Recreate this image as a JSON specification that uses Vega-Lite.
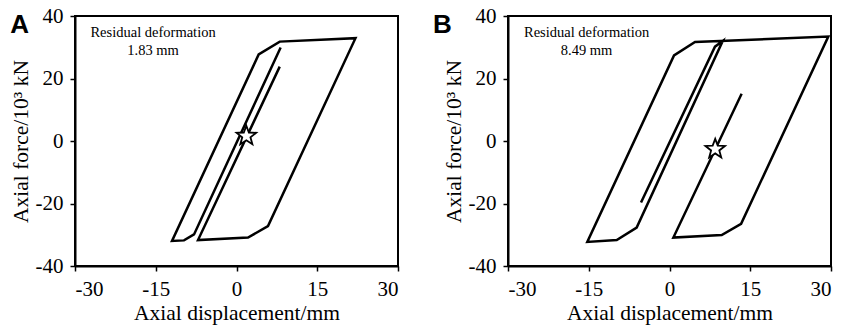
{
  "$schema": "https://vega.github.io/schema/vega-lite/v6.json",
  "background": "white",
  "padding": {"left": 9, "top": 4, "right": 5, "bottom": 5},
  "datasets": {
    "curves": [
      {"panel": "A", "seq": 1, "x": 8.2, "y": 29.9},
      {"panel": "A", "seq": 2, "x": -7.89, "y": -29.9},
      {"panel": "A", "seq": 3, "x": -9.75, "y": -31.8},
      {"panel": "A", "seq": 4, "x": -11.98, "y": -32.0},
      {"panel": "A", "seq": 5, "x": 4.12, "y": 27.7},
      {"panel": "A", "seq": 6, "x": 8.03, "y": 31.8},
      {"panel": "A", "seq": 7, "x": 22.1, "y": 32.9},
      {"panel": "A", "seq": 8, "x": 5.85, "y": -27.2},
      {"panel": "A", "seq": 9, "x": 2.14, "y": -30.9},
      {"panel": "A", "seq": 10, "x": -7.15, "y": -31.7},
      {"panel": "A", "seq": 11, "x": 8.03, "y": 23.8},
      {"panel": "B", "seq": 1, "x": -5.29, "y": -19.7},
      {"panel": "B", "seq": 2, "x": 8.45, "y": 30.2},
      {"panel": "B", "seq": 3, "x": 9.88, "y": 32.0},
      {"panel": "B", "seq": 4, "x": -6.1, "y": -27.7},
      {"panel": "B", "seq": 5, "x": -9.8, "y": -31.7},
      {"panel": "B", "seq": 6, "x": -15.27, "y": -32.3},
      {"panel": "B", "seq": 7, "x": 0.84, "y": 27.4},
      {"panel": "B", "seq": 8, "x": 4.74, "y": 31.7},
      {"panel": "B", "seq": 9, "x": 29.5, "y": 33.4},
      {"panel": "B", "seq": 10, "x": 13.3, "y": -26.5},
      {"panel": "B", "seq": 11, "x": 9.7, "y": -30.1},
      {"panel": "B", "seq": 12, "x": 0.72, "y": -30.9},
      {"panel": "B", "seq": 13, "x": 13.4, "y": 15.1}
    ],
    "stars": [
      {"panel": "A", "x": 1.83, "y": 1.6},
      {"panel": "B", "x": 8.49, "y": -2.6}
    ],
    "notes": [
      {"panel": "A", "x": -15.5, "y": 34.6, "label": "Residual deformation"},
      {"panel": "A", "x": -15.5, "y": 28.8, "label": "1.83 mm"},
      {"panel": "B", "x": -15.4, "y": 34.6, "label": "Residual deformation"},
      {"panel": "B", "x": -15.4, "y": 28.8, "label": "8.49 mm"}
    ],
    "letters": [
      {"panel": "A", "x": -40.3, "y": 34.6, "label": "A"},
      {"panel": "B", "x": -42.2, "y": 34.6, "label": "B"}
    ]
  },
  "hconcat": [
    {
      "width": 323,
      "height": 250,
      "encoding": {
        "x": {"field": "x", "type": "quantitative", "title": "Axial displacement/mm",
              "scale": {"domain": [-30, 30], "nice": false, "zero": false},
              "axis": {"values": [-30, -15, 0, 15, 30], "labelExpr": "datum.value < 0 ? '-' + abs(datum.value) : '' + datum.value"}},
        "y": {"field": "y", "type": "quantitative", "title": "Axial force/10³ kN",
              "scale": {"domain": [-40, 40], "nice": false, "zero": false},
              "axis": {"values": [-40, -20, 0, 20, 40], "labelExpr": "datum.value < 0 ? '-' + abs(datum.value) : '' + datum.value"}}
      },
      "layer": [
        {
          "data": {"name": "curves"},
          "transform": [{"filter": "datum.panel === 'A'"}],
          "mark": {"type": "line", "color": "black", "strokeWidth": 2.5, "strokeJoin": "miter"},
          "encoding": {"order": {"field": "seq", "type": "quantitative"}}
        },
        {
          "data": {"name": "stars"},
          "transform": [{"filter": "datum.panel === 'A'"}],
          "mark": {"type": "point", "shape": "M0,-1L0.247,-0.34L0.951,-0.309L0.4,0.13L0.588,0.809L0,0.42L-0.588,0.809L-0.4,0.13L-0.951,-0.309L-0.247,-0.34Z", "filled": true, "fill": "white", "stroke": "black", "strokeWidth": 1.8, "size": 420, "opacity": 1}
        },
        {
          "data": {"name": "notes"},
          "transform": [{"filter": "datum.panel === 'A'"}],
          "mark": {"type": "text", "font": "Liberation Serif", "fontSize": 14.5, "color": "black", "align": "center", "baseline": "middle"},
          "encoding": {"text": {"field": "label"}}
        },
        {
          "data": {"name": "letters"},
          "transform": [{"filter": "datum.panel === 'A'"}],
          "mark": {"type": "text", "font": "Liberation Sans", "fontWeight": "bold", "fontSize": 26, "color": "black", "align": "center", "baseline": "alphabetic"},
          "encoding": {"text": {"field": "label"}}
        }
      ]
    },
    {
      "width": 323,
      "height": 250,
      "encoding": {
        "x": {"field": "x", "type": "quantitative", "title": "Axial displacement/mm",
              "scale": {"domain": [-30, 30], "nice": false, "zero": false},
              "axis": {"values": [-30, -15, 0, 15, 30], "labelExpr": "datum.value < 0 ? '-' + abs(datum.value) : '' + datum.value"}},
        "y": {"field": "y", "type": "quantitative", "title": "Axial force/10³ kN",
              "scale": {"domain": [-40, 40], "nice": false, "zero": false},
              "axis": {"values": [-40, -20, 0, 20, 40], "labelExpr": "datum.value < 0 ? '-' + abs(datum.value) : '' + datum.value"}}
      },
      "layer": [
        {
          "data": {"name": "curves"},
          "transform": [{"filter": "datum.panel === 'B'"}],
          "mark": {"type": "line", "color": "black", "strokeWidth": 2.5, "strokeJoin": "miter"},
          "encoding": {"order": {"field": "seq", "type": "quantitative"}}
        },
        {
          "data": {"name": "stars"},
          "transform": [{"filter": "datum.panel === 'B'"}],
          "mark": {"type": "point", "shape": "M0,-1L0.247,-0.34L0.951,-0.309L0.4,0.13L0.588,0.809L0,0.42L-0.588,0.809L-0.4,0.13L-0.951,-0.309L-0.247,-0.34Z", "filled": true, "fill": "white", "stroke": "black", "strokeWidth": 1.8, "size": 420, "opacity": 1}
        },
        {
          "data": {"name": "notes"},
          "transform": [{"filter": "datum.panel === 'B'"}],
          "mark": {"type": "text", "font": "Liberation Serif", "fontSize": 14.5, "color": "black", "align": "center", "baseline": "middle"},
          "encoding": {"text": {"field": "label"}}
        },
        {
          "data": {"name": "letters"},
          "transform": [{"filter": "datum.panel === 'B'"}],
          "mark": {"type": "text", "font": "Liberation Sans", "fontWeight": "bold", "fontSize": 26, "color": "black", "align": "center", "baseline": "alphabetic"},
          "encoding": {"text": {"field": "label"}}
        }
      ]
    }
  ],
  "spacing": 31,
  "config": {
    "font": "Liberation Serif",
    "view": {"stroke": "black", "strokeWidth": 2},
    "axis": {
      "grid": false,
      "domainColor": "black",
      "domainWidth": 2,
      "tickColor": "black",
      "tickWidth": 1.5,
      "tickSize": 5,
      "labelColor": "black",
      "labelFont": "Liberation Serif",
      "labelFontSize": 21,
      "labelPadding": 7,
      "titleFont": "Liberation Serif",
      "titleFontSize": 21.5,
      "titleFontWeight": "normal",
      "titleColor": "black",
      "titlePadding": 3
    }
  }
}
